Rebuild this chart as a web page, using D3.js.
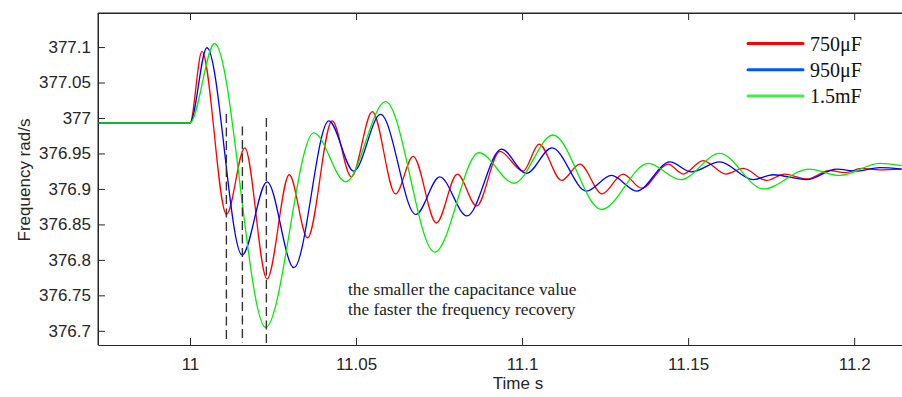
<!DOCTYPE html>
<html><head><meta charset="utf-8">
<script src="https://cdn.jsdelivr.net/npm/d3@7"></script>
<style>body{margin:0;background:#fff}svg{display:block}</style>
</head><body>
<svg id="c" width="902" height="397"></svg>
<script>
// ---- data (time s, frequency rad/s) ----
const seriesNames = ["750μF", "950μF", "1.5mF"];
const c750 = [[10.9723,376.9932],[11.0,376.9932],[11.0036,377.094],[11.011,376.864],[11.0165,376.958],[11.0232,376.773],[11.0299,376.920],[11.0354,376.831],[11.0428,376.996],[11.0486,376.917],[11.0549,377.009],[11.0619,376.893],[11.0672,376.946],[11.0742,376.852],[11.0805,376.921],[11.0863,376.876],[11.0933,376.953],[11.1003,376.925],[11.1051,376.963],[11.1119,376.912],[11.1174,376.935],[11.1241,376.893],[11.1304,376.921],[11.1360,376.901],[11.1440,376.935],[11.1485,376.921],[11.1545,376.940],[11.1614,376.921],[11.1666,376.929],[11.1736,376.912],[11.1791,376.921],[11.1857,376.914],[11.1927,376.926],[11.1972,376.923],[11.2022,376.929],[11.2077,376.927],[11.2143,376.928]];
const c950 = [[10.9723,376.9932],[11.0,376.9932],[11.0051,377.099],[11.0157,376.807],[11.0232,376.910],[11.0313,376.789],[11.0418,376.996],[11.0493,376.925],[11.0574,377.005],[11.0680,376.864],[11.0752,376.917],[11.0834,376.862],[11.0938,376.956],[11.1013,376.922],[11.1090,376.958],[11.1194,376.897],[11.1269,376.919],[11.1345,376.897],[11.1445,376.938],[11.1510,376.924],[11.1595,376.938],[11.1696,376.913],[11.1756,376.920],[11.1857,376.913],[11.1947,376.928],[11.2007,376.925],[11.2077,376.930],[11.2143,376.928]];
const c1500 = [[10.9723,376.9932],[11.0,376.9932],[11.0074,377.105],[11.0228,376.705],[11.0373,376.979],[11.0469,376.910],[11.0589,377.023],[11.0737,376.811],[11.0870,376.951],[11.0976,376.908],[11.1093,376.976],[11.1239,376.871],[11.1380,376.936],[11.1477,376.913],[11.1595,376.950],[11.1726,376.900],[11.1864,376.928],[11.1957,376.919],[11.2077,376.936],[11.2143,376.933]];
// dashed markers: [time, top value]
const markers = [[11.01096,377.0055],[11.01578,376.988],[11.0230,376.9999]];
const xTicks = [11, 11.05, 11.1, 11.15, 11.2];
const yTicks = [376.7,376.75,376.8,376.85,376.9,376.95,377,377.05,377.1];
const note = ["the smaller the capacitance value","the faster the frequency recovery"];

// ---- layout ----
const L = 98, R = 902, T = 13, B = 345;
const x = d3.scaleLinear().domain([10.9723, 11.2144]).range([L, R]);
const y = d3.scaleLinear().domain([376.68, 377.148]).range([B, T]);
const svg = d3.select("#c");
const axisCol = "#262626";
const fmt = d => String(+d.toFixed(4));

// clip
svg.append("clipPath").attr("id","clip").append("rect").attr("x",L).attr("y",T).attr("width",R-L).attr("height",B-T);

// axes
const xa = svg.append("g").attr("transform",`translate(0,${B})`)
  .call(d3.axisBottom(x).tickValues(xTicks).tickFormat(fmt).tickSizeInner(-7).tickSizeOuter(0).tickPadding(13));
const xt = svg.append("g").attr("transform",`translate(0,${T})`)
  .call(d3.axisTop(x).tickValues(xTicks).tickFormat("").tickSizeInner(-7).tickSizeOuter(0));
const ya = svg.append("g").attr("transform",`translate(${L},0)`)
  .call(d3.axisLeft(y).tickValues(yTicks).tickFormat(fmt).tickSizeInner(-7).tickSizeOuter(0).tickPadding(7));
[xa,xt,ya].forEach(g=>{
  g.selectAll("path,line").attr("stroke",axisCol).attr("stroke-width",1);
  g.selectAll("text").attr("fill",axisCol).attr("font-family","'Liberation Sans',Arial,sans-serif").attr("font-size",17);
});

// lines
const line = d3.line().x(d=>x(d[0])).y(d=>y(d[1])).curve(d3.curveMonotoneX);
const g = svg.append("g").attr("clip-path","url(#clip)");
const series = [[c750,"#ff0000"],[c950,"#0000ff"],[c1500,"#00ee00"]];
series.forEach(([d,c])=>{
  g.append("path").attr("d",line(d)).attr("fill","none").attr("stroke",c).attr("stroke-width",1.3);
});

// dashed markers
markers.forEach(([t,v])=>{
  svg.append("line").attr("x1",x(t)).attr("x2",x(t)).attr("y1",y(v)).attr("y2",B-2)
    .attr("stroke","#333").attr("stroke-width",1.4).attr("stroke-dasharray","9,4.5");
});

// frame
svg.append("path").attr("d",`M${L},${B}V${T}H${R}`).attr("fill","none").attr("stroke",axisCol).attr("stroke-width",1);

// axis titles
svg.append("text").attr("x",518).attr("y",389).attr("text-anchor","middle")
  .attr("font-family","'Liberation Sans',Arial,sans-serif").attr("font-size",17).attr("fill",axisCol).text("Time s");
svg.append("text").attr("transform","translate(30,180) rotate(-90)").attr("text-anchor","middle")
  .attr("font-family","'Liberation Sans',Arial,sans-serif").attr("font-size",17).attr("fill",axisCol).text("Frequency rad/s");

// legend
const legCols = ["#ff0000","#0055ff","#44ee44"];
seriesNames.forEach((n,i)=>{
  const yy = 43.5 + i*26.3;
  svg.append("line").attr("x1",748).attr("x2",803).attr("y1",yy).attr("y2",yy)
    .attr("stroke",legCols[i]).attr("stroke-width",3).attr("stroke-linecap","round");
  svg.append("text").attr("x",810).attr("y",yy+7).attr("font-family","'Liberation Serif','Times New Roman',serif")
    .attr("font-size",20).attr("fill","#111").text(n);
});

// annotation
note.forEach((s,i)=>{
  svg.append("text").attr("x",348).attr("y",295+i*20).attr("font-family","'Liberation Serif','Times New Roman',serif")
    .attr("font-size",17.3).attr("fill","#222").text(s);
});
</script>
</body></html>
